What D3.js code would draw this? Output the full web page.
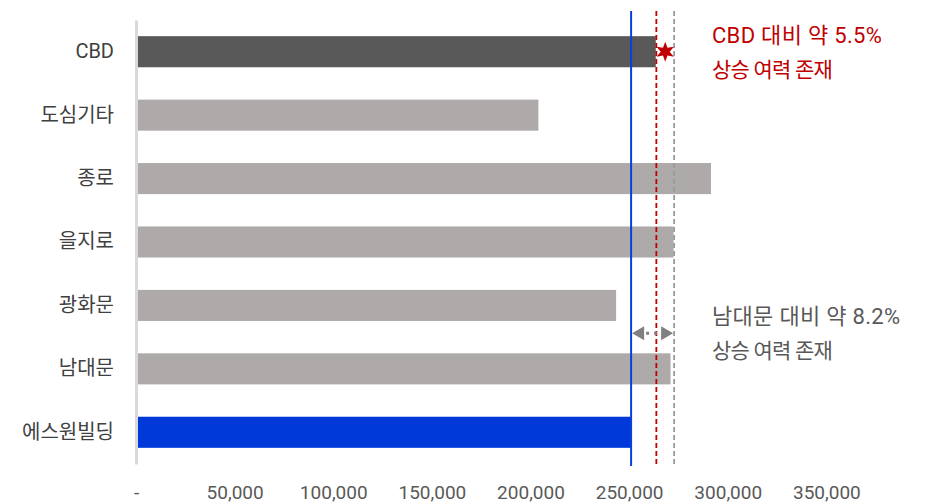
<!DOCTYPE html>
<html>
<head>
<meta charset="utf-8">
<script src="https://cdn.jsdelivr.net/npm/d3@7"></script>
<style>
  html, body { margin: 0; padding: 0; background: #fff; }
  svg { display: block; font-family: Roboto, "Noto Sans CJK KR", sans-serif; }
</style>
</head>
<body>
<svg id="chart" width="926" height="504"></svg>
<script>
// Average rent by district (KRW)
const categories = ["CBD", "도심기타", "종로", "을지로", "광화문", "남대문", "에스원빌딩"];
const values = [263500, 204000, 291500, 272500, 243400, 271000, 251000];
const barColors = ["#595959", "#aeaaaa", "#aeaaaa", "#aeaaaa", "#aeaaaa", "#aeaaaa", "#0039d9"];
const tickValues = [0, 50000, 100000, 150000, 200000, 250000, 300000, 350000];
const tickLabels = ["-", "50,000", "100,000", "150,000", "200,000", "250,000", "300,000", "350,000"];

// Reference lines: own building, CBD average, upper bound
const refValues = [251000, 263800, 272800];
const refColors = ["#0b3fdc", "#c00000", "#9a9a9a"];
const refDash = [null, "5,3", "5,3"];

const notes = [
  { lines: ["CBD 대비 약 5.5%", "상승 여력 존재"], color: "#c00000" },
  { lines: ["남대문 대비 약 8.2%", "상승 여력 존재"], color: "#595959" }
];

const FONT = "Roboto, 'Noto Sans CJK KR', sans-serif";
const svg = d3.select("#chart");

const x = d3.scaleLinear().domain([0, 400000]).range([136, 925]);
const y = d3.scaleBand().domain(categories).range([20, 464]).paddingInner(0.51).paddingOuter(0.255);

// Bars
svg.append("g").selectAll("rect")
  .data(categories)
  .join("rect")
  .attr("x", x(0) + 1)
  .attr("y", d => y(d))
  .attr("width", (d, i) => x(values[i]) - x(0) - 1)
  .attr("height", y.bandwidth())
  .attr("fill", (d, i) => barColors[i]);

// Category axis
const yAxis = svg.append("g")
  .attr("transform", `translate(${x(0)},0)`)
  .call(d3.axisLeft(y).tickSize(0).tickPadding(22));
yAxis.select(".domain").attr("stroke", "#d9d9d9").attr("stroke-width", 3);
yAxis.selectAll("text").attr("font-size", 20).attr("fill", "#404040")
  .attr("font-family", FONT);

// Value axis labels
const xAxis = svg.append("g")
  .attr("transform", "translate(0,481)")
  .call(d3.axisBottom(x).tickValues(tickValues).tickSize(0).tickPadding(4)
    .tickFormat((d, i) => tickLabels[i]));
xAxis.select(".domain").remove();
xAxis.selectAll("text").attr("font-size", 19).attr("fill", "#595959")
  .attr("font-family", FONT);

// Reference lines
svg.append("g").selectAll("line")
  .data(refValues)
  .join("line")
  .attr("x1", d => x(d)).attr("x2", d => x(d))
  .attr("y1", 11).attr("y2", 466)
  .attr("stroke", (d, i) => refColors[i])
  .attr("stroke-width", (d, i) => i === 0 ? 2 : 1.8)
  .attr("stroke-dasharray", (d, i) => refDash[i]);

// Burst marker between CBD bar and upper bound
const cbdY = y(categories[0]) + y.bandwidth() / 2;
const starPts = d3.range(12).map(k => [k * Math.PI / 6, k % 2 === 0 ? 10 : 4.5]);
svg.append("path")
  .attr("d", d3.lineRadial().curve(d3.curveLinearClosed)(starPts))
  .attr("transform", `translate(${(x(refValues[1]) + x(refValues[2])) / 2},${cbdY})`)
  .attr("fill", "#c00000");

// Double-headed arrow spanning the gap between own building and upper bound
const arrowY = y(categories[5]) - 20;
const ax1 = x(refValues[0]) + 1, ax2 = x(refValues[2]) - 1;
const arrow = svg.append("g").attr("fill", "#808080");
arrow.append("line")
  .attr("x1", ax1 + 14).attr("x2", ax2 - 12)
  .attr("y1", arrowY).attr("y2", arrowY)
  .attr("stroke", "#808080").attr("stroke-width", 3).attr("stroke-dasharray", "3,5");
arrow.append("path").attr("d", `M${ax1},${arrowY} L${ax1 + 12},${arrowY - 7} L${ax1 + 12},${arrowY + 7} Z`);
arrow.append("path").attr("d", `M${ax2},${arrowY} L${ax2 - 12},${arrowY - 7} L${ax2 - 12},${arrowY + 7} Z`);

// Annotations
const noteY = [35, 316];
notes.forEach((n, k) => {
  const t = svg.append("text")
    .attr("x", 712).attr("y", noteY[k])
    .attr("fill", n.color)
    .attr("font-family", FONT)
    .attr("dominant-baseline", "central");
  n.lines.forEach((line, j) => {
    t.append("tspan").attr("x", 712).attr("dy", j === 0 ? 0 : 35)
      .attr("font-size", j === 0 ? 22 : 21)
      .attr("letter-spacing", j === 0 ? 0.3 : -0.8)
      .text(line);
  });
});
</script>
</body>
</html>
